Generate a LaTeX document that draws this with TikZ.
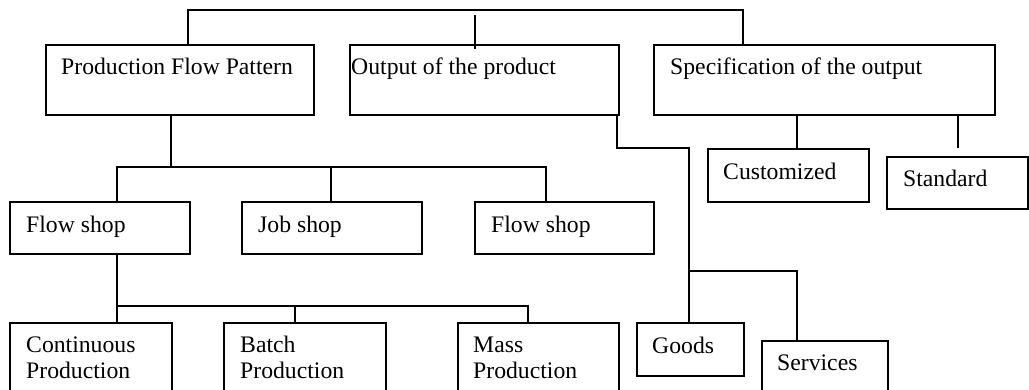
\documentclass[tikz,border=0pt]{standalone}
\usepackage{fontspec}
\setmainfont{Liberation Serif}
\usetikzlibrary{calc}
\tikzset{
  box/.style={draw=black, line width=1.6pt, inner sep=0pt, anchor=north west},
  txt/.style={inner sep=0pt, anchor=base west, align=left, font=\fontsize{23.7}{26}\selectfont},
  conn/.style={draw=black, line width=1.6pt}
}
\begin{document}
\begin{tikzpicture}[x=1pt,y=-1pt]
\useasboundingbox (0,0) rectangle (1029,389);
\clip (0,0) rectangle (1029,389);
% boxes
\node[box, minimum width=268pt, minimum height=70pt] (pfp) at (45,44) {};
\node[box, minimum width=269pt, minimum height=70pt] (out) at (349,44) {};
\node[box, minimum width=341pt, minimum height=70pt] (spec) at (653,44) {};
\node[box, minimum width=180pt, minimum height=52pt] (fs1) at (9,201) {};
\node[box, minimum width=180pt, minimum height=52pt] (js) at (241,201) {};
\node[box, minimum width=179pt, minimum height=52pt] (fs2) at (474,201) {};
\node[box, minimum width=162pt, minimum height=90pt] (cont) at (9,322) {};
\node[box, minimum width=162pt, minimum height=90pt] (batch) at (223,322) {};
\node[box, minimum width=161pt, minimum height=90pt] (mass) at (457,322) {};
\node[box, minimum width=107pt, minimum height=53pt] (goods) at (636,322) {};
\node[box, minimum width=126pt, minimum height=80pt] (serv) at (761,340) {};
\node[box, minimum width=161pt, minimum height=53pt] (cust) at (707,148) {};
\node[box, minimum width=141pt, minimum height=52pt] (std) at (886,156) {};
% texts
\node[txt] (tpfp) at ($(pfp.north west)+(16,30)$) {Production Flow Pattern};
\node[txt] (tout) at ($(out.north west)+(2,30)$) {Output of the product};
\node[txt] (tspec) at ($(spec.north west)+(17,30)$) {Specification of the output};
\node[txt] (tfs1) at ($(fs1.north west)+(17,31)$) {Flow shop};
\node[txt] (tjs) at ($(js.north west)+(17,31)$) {Job shop};
\node[txt] (tfs2) at ($(fs2.north west)+(17,31)$) {Flow shop};
\node[txt] (tcont) at ($(cont.north west)+(17,56)$) {Continuous\\Production};
\node[txt] (tbatch) at ($(batch.north west)+(17,56)$) {Batch\\Production};
\node[txt] (tmass) at ($(mass.north west)+(16,56)$) {Mass\\Production};
\node[txt] (tgoods) at ($(goods.north west)+(16,31)$) {Goods};
\node[txt] (tserv) at ($(serv.north west)+(16,30)$) {Services};
\node[txt] (tcust) at ($(cust.north west)+(16,31)$) {Customized};
\node[txt] (tstd) at ($(std.north west)+(17,30)$) {Standard};
% connector coordinates
\coordinate (a) at (188,10);
\coordinate (b) at (743,10);
\coordinate (tk) at (475,15);
\coordinate (p1) at (171,167);
\coordinate (h1l) at (117,167);
\coordinate (h1m) at (331,167);
\coordinate (h1r) at (546,167);
\coordinate (h2l) at (117,306);
\coordinate (h2m) at (295,306);
\coordinate (h2r) at (528,306);
\coordinate (o1) at (617,148);
\coordinate (o2) at (689,148);
\coordinate (o3) at (689,271);
\coordinate (o4) at (797,271);
\coordinate (sx1) at (797,0);
\coordinate (sx2) at (958,0);
% connectors
\draw[conn] (a |- pfp.north) -- (a) -- (b) -- (b |- spec.north);
\draw[conn] (tk) -- ($(tk |- out.north)+(0,5)$);
\draw[conn] (p1 |- pfp.south) -- (p1);
\draw[conn] (h1l |- fs1.north) -- (h1l) -- (h1r) -- (h1r |- fs2.north);
\draw[conn] (h1m) -- (h1m |- js.north);
\draw[conn] (h2l |- fs1.south) -- (h2l |- cont.north);
\draw[conn] (h2l) -- (h2r) -- (h2r |- mass.north);
\draw[conn] (h2m) -- (h2m |- batch.north);
\draw[conn] (o1 |- out.south) -- (o1) -- (o2) -- (o2 |- goods.north);
\draw[conn] (o3) -- (o4) -- (o4 |- serv.north);
\draw[conn] (sx1 |- spec.south) -- (sx1 |- cust.north);
\draw[conn] (sx2 |- spec.south) -- ($(sx2 |- std.north)+(0,-8)$);
\end{tikzpicture}
\end{document}
